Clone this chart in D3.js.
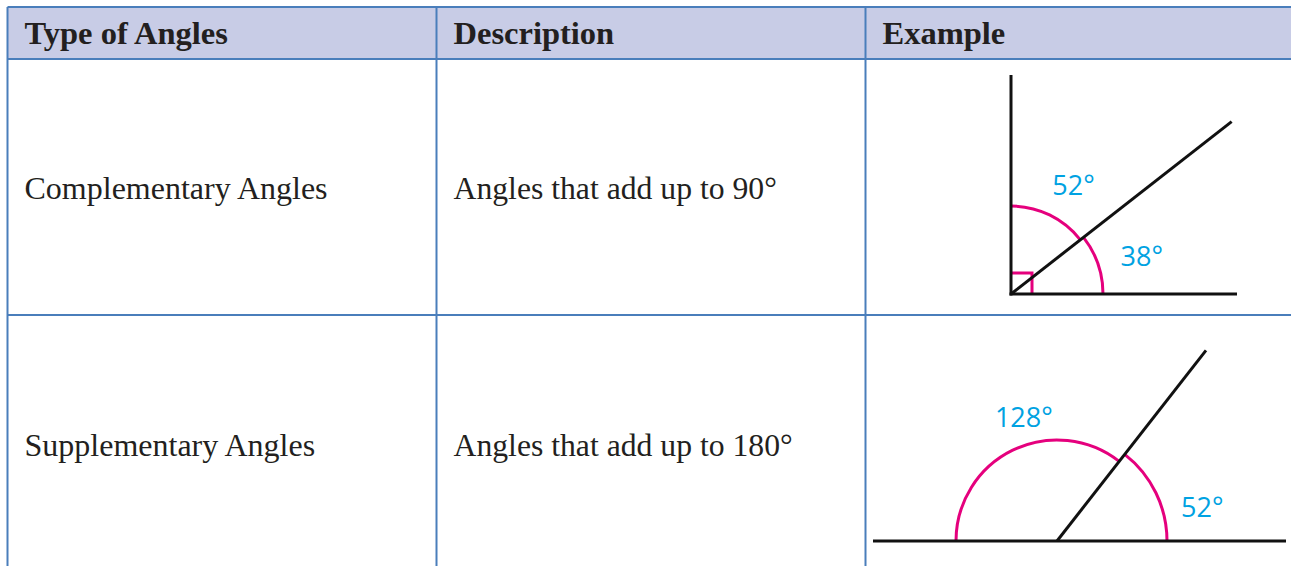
<!DOCTYPE html>
<html>
<head>
<meta charset="utf-8">
<script src="https://cdn.jsdelivr.net/npm/d3@7"></script>
<style>
  html, body { margin: 0; padding: 0; background: #fff; overflow: hidden; }
</style>
</head>
<body>
<div id="chart"></div>
<script>
// table content
const headers = ["Type of Angles", "Description", "Example"];
const angleTypes = ["Complementary Angles", "Supplementary Angles"];
const descriptions = ["Angles that add up to 90°", "Angles that add up to 180°"];
// angle pairs drawn in the example column (degrees)
const complementary = [52, 38];
const supplementary = [128, 52];

const width = 1291, height = 566;
const colEdges = [7.5, 436.5, 865.5, 1300];
const rowEdges = [7, 59, 315, 572];

const borderColor = "#4a7ebb";
const headerFill = "#c8cce6";
const textColor = "#231f20";
const arcColor = "#e5007d";
const labelColor = "#00a2e2";

const svg = d3.select("#chart").append("svg")
    .attr("width", width).attr("height", height);

// header background
svg.append("rect")
    .attr("x", colEdges[0]).attr("y", rowEdges[0])
    .attr("width", colEdges[3] - colEdges[0])
    .attr("height", rowEdges[1] - rowEdges[0])
    .attr("fill", headerFill);

// grid lines
let grid = svg.append("g").attr("stroke", borderColor).attr("stroke-width", 2);
grid.selectAll("line.h").data(rowEdges.slice(0, 3)).enter().append("line")
    .attr("x1", colEdges[0]).attr("x2", colEdges[3])
    .attr("y1", d => d).attr("y2", d => d);
grid.selectAll("line.v").data(colEdges.slice(0, 3)).enter().append("line")
    .attr("y1", rowEdges[0]).attr("y2", rowEdges[3])
    .attr("x1", d => d).attr("x2", d => d);

const padX = 17;

// header text
svg.append("g").selectAll("text").data(headers).enter().append("text")
    .attr("x", (d, i) => colEdges[i] + padX)
    .attr("y", 44)
    .attr("font-family", "'Liberation Serif', 'Times New Roman', serif")
    .attr("font-weight", "bold")
    .attr("font-size", 32.5)
    .attr("fill", textColor)
    .text(d => d);

// body rows
const bodyFont = "'Liberation Serif', 'Times New Roman', serif";
function rowMid(i) { return (rowEdges[i + 1] + rowEdges[i + 2]) / 2; }

svg.append("g").selectAll("text").data(angleTypes).enter().append("text")
    .attr("x", colEdges[0] + padX)
    .attr("y", (d, i) => rowMid(i) + 12)
    .attr("font-family", bodyFont).attr("font-size", 32)
    .attr("fill", textColor).text(d => d);

svg.append("g").selectAll("text").data(descriptions).enter().append("text")
    .attr("x", colEdges[1] + padX)
    .attr("y", (d, i) => rowMid(i) + 12)
    .attr("font-family", bodyFont).attr("font-size", 31.7)
    .attr("fill", textColor).text(d => d);

// degrees -> svg radians (counter-clockwise, y down)
const rad = d3.scaleLinear().domain([0, 360]).range([0, -2 * Math.PI]);

function polar(o, deg, r) {
    return [o[0] + r * Math.cos(rad(deg)), o[1] + r * Math.sin(rad(deg))];
}

function drawArc(g, o, r, a0, a1) {
    let p = d3.path();
    let s = polar(o, a0, r);
    p.moveTo(s[0], s[1]);
    p.arc(o[0], o[1], r, rad(a0), rad(a1), true);
    g.append("path").attr("d", p.toString())
        .attr("fill", "none").attr("stroke", arcColor).attr("stroke-width", 3);
}

function drawLine(g, a, b) {
    g.append("line")
        .attr("x1", a[0]).attr("y1", a[1]).attr("x2", b[0]).attr("y2", b[1])
        .attr("stroke", "#111").attr("stroke-width", 3).attr("stroke-linecap", "butt");
}

function label(g, o, deg, r, txt) {
    let p = polar(o, deg, r);
    g.append("text")
        .attr("x", p[0]).attr("y", p[1] + 9.5)
        .attr("text-anchor", "middle")
        .attr("font-family", "'Open Sans', 'Noto Sans', sans-serif")
        .attr("font-size", 27)
        .attr("fill", labelColor)
        .text(txt + "°");
}

// example 1: complementary angles
{
    let g = svg.append("g");
    let o = [1011, 294];
    let ray = complementary[1];
    drawArc(g, o, 88, ray, ray + complementary[0]);
    drawArc(g, o, 92, 0, ray);
    // right-angle mark
    let sq = 21;
    g.append("path")
        .attr("d", `M${o[0]},${o[1] - sq}H${o[0] + sq}V${o[1]}`)
        .attr("fill", "none").attr("stroke", arcColor).attr("stroke-width", 3);
    drawLine(g, [o[0], o[1] + 1.5], polar(o, 90, 219));
    drawLine(g, [o[0] - 1.5, o[1]], polar(o, 0, 226));
    drawLine(g, o, polar(o, ray, 280));
    label(g, o, 60, 125, complementary[0]);
    label(g, o, 16, 136, complementary[1]);
}

// example 2: supplementary angles
{
    let g = svg.append("g");
    let o = [1057, 541];
    let ray = supplementary[1];
    drawArc(g, o, 101, ray, ray + supplementary[0]);
    drawArc(g, o, 110, 0, ray);
    drawLine(g, [873, o[1]], [1286, o[1]]);
    drawLine(g, o, polar(o, ray, 242));
    label(g, o, 105, 128, supplementary[0]);
    label(g, o, 12.8, 149, supplementary[1]);
}
</script>
</body>
</html>
